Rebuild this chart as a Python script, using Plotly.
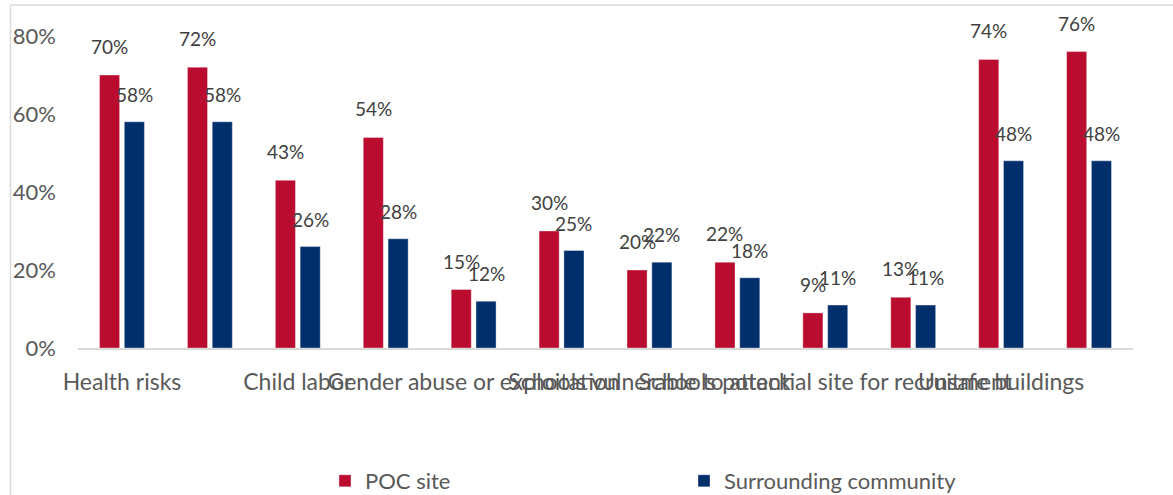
import plotly.graph_objects as go

# ---- data ----
poc_site = [0.70, 0.72, 0.43, 0.54, 0.15, 0.30, 0.20, 0.22, 0.09, 0.13, 0.74, 0.76]
surrounding = [0.58, 0.58, 0.26, 0.28, 0.12, 0.25, 0.22, 0.18, 0.11, 0.11, 0.48, 0.48]
tick_labels = ["Health risks", "Child labor", "Gender abuse or exploitation",
               "Schools vulnerable to attack", "Schools potential site for recruitment",
               "Unsafe buildings"]
tick_index = [0, 2, 4, 6, 8, 10]
series_names = ["POC site", "Surrounding community"]

# ---- style ----
W, H = 1173, 495
ML, MR, MT, MB = 78, 40, 36, 147
RED = "#BA0C2F"
BLUE = "#002F6C"
FONT = "Lato"
BARGAP = 0.436
GROUPGAP = 0.19

x = list(range(len(poc_site)))
pw, ph = W - ML - MR, H - MT - MB


def px_x(p):
    return (p - ML) / pw


def px_y(p):
    return (H - MB - p) / ph


fig = go.Figure()
fig.add_bar(x=x, y=poc_site, name=series_names[0], marker_color=RED,
            marker_line=dict(color="rgba(255,255,255,0.6)", width=0.6))
fig.add_bar(x=x, y=surrounding, name=series_names[1], marker_color=BLUE,
            marker_line=dict(color="rgba(255,255,255,0.6)", width=0.6))

off = (1 - BARGAP) / 4
for vals, sgn, ysh in ((poc_site, -1, 15), (surrounding, 1, 14)):
    for i, v in zip(x, vals):
        fig.add_annotation(x=i + sgn * off, y=v, text=f"{round(v * 100)}%",
                           showarrow=False, yanchor="bottom", yshift=ysh,
                           font=dict(family=FONT, size=19, color="#404040"))

# chart border lines (left and top)
fig.add_shape(type="line", xref="paper", yref="paper",
              x0=px_x(10.5), x1=px_x(10.5), y0=px_y(5), y1=px_y(H + 2),
              line=dict(color="#D9D9D9", width=1.5))
fig.add_shape(type="line", xref="paper", yref="paper",
              x0=px_x(10.5), x1=px_x(W + 2), y0=px_y(5), y1=px_y(5),
              line=dict(color="#D9D9D9", width=1.5))

fig.update_layout(
    width=W, height=H,
    margin=dict(l=ML, r=MR, t=MT, b=MB, autoexpand=False),
    paper_bgcolor="white", plot_bgcolor="white",
    barmode="group", bargap=BARGAP, bargroupgap=GROUPGAP,
    font=dict(family=FONT, color="#595959"),
    showlegend=True,
    legend=dict(orientation="h", x=px_x(325), y=px_y(481), xanchor="left",
                yanchor="middle", font=dict(family=FONT, size=22, color="#595959"),
                entrywidth=314, itemwidth=30, traceorder="normal"),
    xaxis=dict(range=[-0.5, len(x) - 0.5], tickmode="array", tickvals=tick_index,
               ticktext=tick_labels, tickangle=0, showgrid=False, zeroline=False,
               showline=True, linecolor="#D9D9D9", linewidth=2, ticks="",
               ticklabelstandoff=12, automargin=False,
               tickfont=dict(family=FONT, size=23, color="#595959")),
    yaxis=dict(range=[0, 0.8], tickvals=[0, 0.2, 0.4, 0.6, 0.8], tickformat=".0%",
               showgrid=False, zeroline=False, showline=False, ticks="",
               ticklabelstandoff=21, automargin=False,
               tickfont=dict(family=FONT, size=22, color="#595959")),
)

fig.write_html("out.html", config={"displayModeBar": False},
               post_script="document.body.style.margin='0';")
